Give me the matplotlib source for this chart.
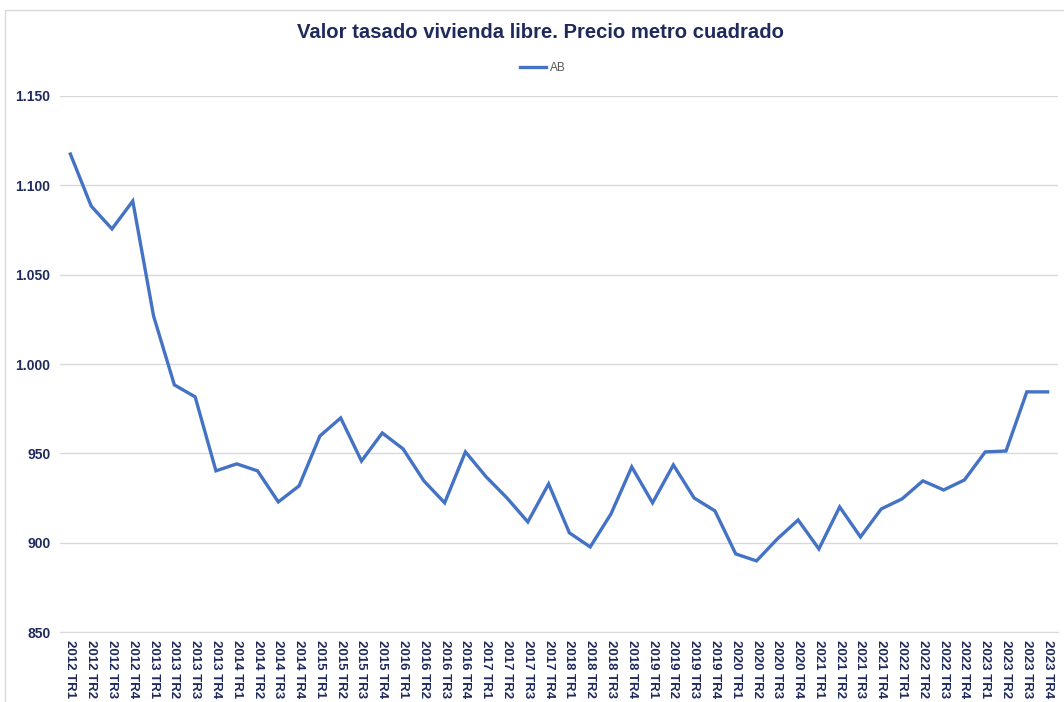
import matplotlib
matplotlib.use("Agg")
import matplotlib.pyplot as plt
from matplotlib.patches import Rectangle
from matplotlib.ticker import FuncFormatter

# Quarterly appraised value (EUR/m2), free housing, AB
years = [str(y) for y in range(2012, 2024)]
quarters = ["TR1", "TR2", "TR3", "TR4"]
periods = [f"{y} {q}" for y in years for q in quarters]

ab_values = [
    1117.5, 1088.4, 1075.6, 1091.2,
    1026.9, 988.3, 981.6, 940.2,
    944.1, 940.2, 922.8, 931.8,
    959.7, 969.8, 945.7, 961.4,
    952.5, 934.6, 922.3, 950.8,
    936.8, 925.0, 911.6, 932.9,
    905.5, 897.6, 916.1, 942.4,
    922.3, 943.5, 925.0, 917.8,
    893.7, 889.8, 902.1, 912.7,
    896.5, 920.0, 903.2, 918.9,
    924.5, 934.6, 929.5, 935.1,
    950.8, 951.3, 984.4, 984.4,
]

navy = "#1f2a5c"
blue = "#4472C4"
grid = "#d9d9d9"

plt.rcParams["font.family"] = ["Liberation Sans", "DejaVu Sans"]

fig = plt.figure(figsize=(10.64, 7.02), dpi=100)
ax = fig.add_axes([60 / 1064, 1 - 632 / 702, 998 / 1064, 536 / 702])

# thin border around the chart area
fig.patches.append(Rectangle((5 / 1064, -0.05), 1.1, 1 - 10 / 702 + 0.05,
                             transform=fig.transFigure, fill=False,
                             edgecolor=grid, linewidth=1))

x = list(range(len(periods)))
ax.plot(x, ab_values, color=blue, linewidth=2.4, label="AB",
        solid_joinstyle="miter")

ax.set_xlim(-0.5, len(periods) - 0.5)
ax.set_ylim(850, 1150)
ax.set_yticks(range(850, 1151, 50))
ax.yaxis.set_major_formatter(FuncFormatter(lambda v, p: f"{int(v):,}".replace(",", ".")))
ax.set_xticks(x)
ax.set_xticklabels(periods, rotation=-90, fontsize=9.5, fontweight="bold", color=navy)
for lbl in ax.get_yticklabels():
    lbl.set_fontweight("bold")
    lbl.set_color(navy)
    lbl.set_fontsize(10)

ax.grid(axis="y", color=grid, linewidth=1)
ax.set_axisbelow(True)
for side in ["top", "right", "left"]:
    ax.spines[side].set_visible(False)
ax.spines["bottom"].set_color(grid)
ax.tick_params(axis="both", length=0)
ax.tick_params(axis="x", pad=6)
ax.tick_params(axis="y", pad=7)

fig.text(0.508, 1 - 33 / 702, "Valor tasado vivienda libre. Precio metro cuadrado",
         ha="center", va="center", fontsize=14.6, fontweight="bold", color=navy)

leg = ax.legend(loc="center", bbox_to_anchor=(0.51, 1 - 68 / 702), bbox_transform=fig.transFigure,
                frameon=False, fontsize=8.5, handlelength=2.2, handletextpad=0.35)
for t in leg.get_texts():
    t.set_color("#595959")

fig.savefig("out.png", dpi=100, facecolor="white")
